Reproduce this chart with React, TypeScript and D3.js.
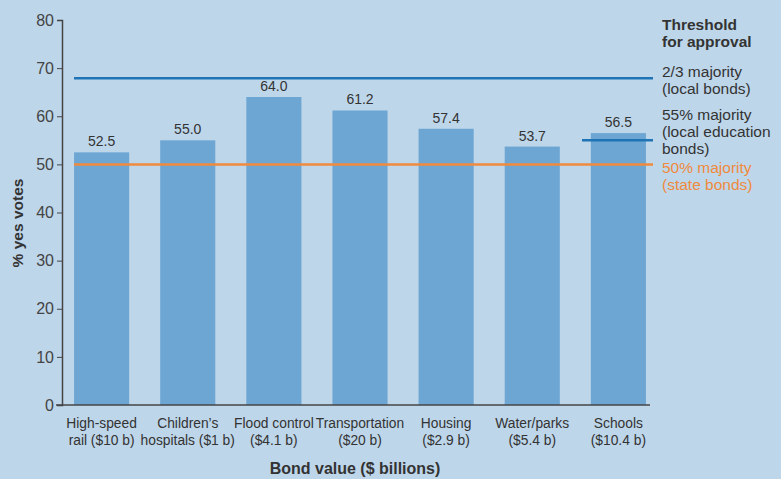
import React, { useEffect, useRef } from 'react';
import * as d3 from 'd3';

const categories = ['High-speed|rail ($10 b)', 'Children’s|hospitals ($1 b)', 'Flood control|($4.1 b)', 'Transportation|($20 b)', 'Housing|($2.9 b)', 'Water/parks|($5.4 b)', 'Schools|($10.4 b)'];
const yesVotes = [52.5, 55.0, 64.0, 61.2, 57.4, 53.7, 56.5];
const yTicks = [0, 10, 20, 30, 40, 50, 60, 70, 80];

const thresholdValues = [67.9, 55, 50];
const thresholdLabels = [['2/3 majority', '(local bonds)'], ['55% majority', '(local education', 'bonds)'], ['50% majority', '(state bonds)']];

const W = 781;
const H = 479;

export default function App() {
  const svgRef = useRef<SVGSVGElement | null>(null);

  useEffect(() => {
    const svg = d3.select(svgRef.current);
    svg.selectAll('*').remove();

    const font = '"Liberation Sans", Arial, Helvetica, sans-serif';
    const textCol = '#333';

    svg.append('rect').attr('width', W).attr('height', H).attr('fill', '#bed6ea');

    const x = d3.scaleBand().domain(categories).range([62, 658]).paddingInner(0.36).paddingOuter(0.14);
    const y = d3.scaleLinear().domain([0, 80]).range([405, 20]);

    // bars
    svg.append('g').selectAll('rect')
      .data(categories)
      .enter()
      .append('rect')
      .attr('x', d => x(d)!)
      .attr('y', (d, i) => y(yesVotes[i]))
      .attr('width', x.bandwidth())
      .attr('height', (d, i) => y(0) - y(yesVotes[i]))
      .attr('fill', '#6ea6d3');

    // value labels
    svg.append('g').selectAll('text')
      .data(categories)
      .enter()
      .append('text')
      .attr('x', d => x(d)! + x.bandwidth() / 2)
      .attr('y', (d, i) => y(yesVotes[i]) - 6)
      .attr('text-anchor', 'middle')
      .style('font-family', font)
      .style('font-size', '14px')
      .attr('fill', textCol)
      .text((d, i) => yesVotes[i].toFixed(1));

    // threshold lines
    const lineX0 = [74, 582, 74];
    const lineCol = ['#1f74b5', '#1f74b5', '#f08a3c'];
    thresholdValues.forEach((v, i) => {
      svg.append('line')
        .attr('x1', lineX0[i]).attr('x2', 653)
        .attr('y1', y(v)).attr('y2', y(v))
        .attr('stroke', lineCol[i])
        .attr('stroke-width', 2.5);
    });

    // y axis
    const yAxis = svg.append('g')
      .attr('transform', 'translate(62,0)')
      .call(d3.axisLeft(y).tickValues(yTicks).tickSize(5).tickPadding(3).tickFormat(d3.format('d')));
    yAxis.select('.domain').attr('stroke', '#444').attr('stroke-width', 1.5);
    yAxis.selectAll('.tick line').attr('stroke', '#444');
    yAxis.selectAll('.tick text').style('font-family', font).style('font-size', '16px').attr('fill', '#444');

    // x axis line
    svg.append('line')
      .attr('x1', 56).attr('x2', 650)
      .attr('y1', y(0)).attr('y2', y(0))
      .attr('stroke', '#444').attr('stroke-width', 1.5);

    // x category labels
    const xl = svg.append('g');
    categories.forEach(c => {
      const t = xl.append('text')
        .attr('x', x(c)! + x.bandwidth() / 2)
        .attr('y', 428)
        .attr('text-anchor', 'middle')
        .style('font-family', font)
        .style('font-size', '13.8px')
        .attr('fill', textCol);
      c.split('|').forEach((line, j) => {
        t.append('tspan').attr('x', x(c)! + x.bandwidth() / 2).attr('dy', j === 0 ? 0 : 17).text(line);
      });
    });

    // axis titles
    svg.append('text')
      .attr('x', 355).attr('y', 474)
      .attr('text-anchor', 'middle')
      .style('font-family', font).style('font-size', '16px').style('font-weight', 'bold')
      .attr('fill', textCol)
      .text('Bond value ($ billions)');

    svg.append('text')
      .attr('transform', 'translate(23,223) rotate(-90)')
      .attr('text-anchor', 'middle')
      .style('font-family', font).style('font-size', '15.5px').style('font-weight', 'bold')
      .attr('fill', textCol)
      .text('% yes votes');

    // legend
    const leg = svg.append('g').style('font-family', font).style('font-size', '15.5px');
    leg.append('text').attr('x', 662).attr('y', 30).style('font-weight', 'bold').attr('fill', textCol).text('Threshold');
    leg.append('text').attr('x', 662).attr('y', 47).style('font-weight', 'bold').attr('fill', textCol).text('for approval');
    const legY = [77, 120, 173];
    const legCol = [textCol, textCol, '#f08a3c'];
    thresholdLabels.forEach((lines, i) => {
      lines.forEach((l, j) => {
        leg.append('text').attr('x', 662).attr('y', legY[i] + j * 17).attr('fill', legCol[i]).text(l);
      });
    });
  }, []);

  return (
    <svg ref={svgRef} width={W} height={H} style={{ position: 'fixed', top: 0, left: 0, display: 'block' }} />
  );
}
